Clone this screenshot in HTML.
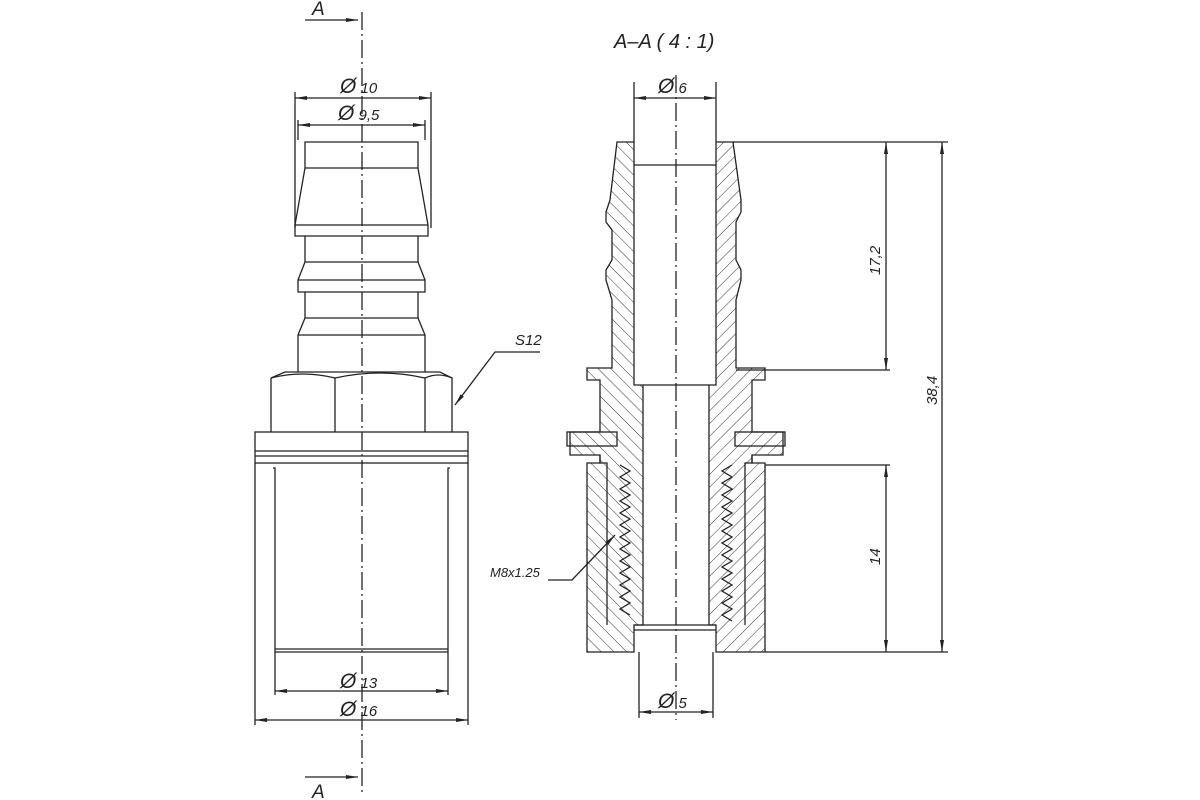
<!DOCTYPE html>
<html><head><style>body{margin:0;background:#fff}svg{display:block}text{font-family:"Liberation Sans",sans-serif;font-style:italic;fill:#222}</style></head><body>
<svg width="1200" height="800" viewBox="0 0 1200 800" xmlns="http://www.w3.org/2000/svg">
<defs>
<pattern id="h" patternUnits="userSpaceOnUse" width="9" height="9" patternTransform="rotate(-45)"><line x1="0" y1="0" x2="0" y2="9" stroke="#333" stroke-width="1"/></pattern>
<pattern id="h2" patternUnits="userSpaceOnUse" width="9" height="9" patternTransform="rotate(45)"><line x1="0" y1="0" x2="0" y2="9" stroke="#333" stroke-width="1"/></pattern>
<marker id="a" markerWidth="12" markerHeight="6" refX="12" refY="3" orient="auto-start-reverse" markerUnits="userSpaceOnUse"><path d="M0,1 L12,3 L0,5 z" fill="#222"/></marker>
</defs>
<g stroke="#222" stroke-width="1.3" fill="none">
<line x1="362" y1="12" x2="362" y2="795" stroke-dasharray="18,4,2,4"/>
<line x1="305" y1="20" x2="358" y2="20" marker-end="url(#a)"/>
<line x1="305" y1="777" x2="358" y2="777" marker-end="url(#a)"/>
<path d="M305,142 H418 V168 L428,225 V236 H295 V225 L305,168 Z"/>
<line x1="305" y1="168" x2="418" y2="168"/>
<line x1="295" y1="225" x2="428" y2="225"/>
<path d="M305,236 V262 L298,280 V292 H425 V280 L418,262 V236"/>
<line x1="305" y1="262" x2="418" y2="262"/><line x1="298" y1="280" x2="425" y2="280"/>
<path d="M305,292 V318 L298,335 V372 M418,292 V318 L425,335 V372"/>
<line x1="305" y1="318" x2="418" y2="318"/><line x1="298" y1="335" x2="425" y2="335"/>
<path d="M271,378 L285,372 H440 L452,378 V432 M271,378 V432"/>
<path d="M271,378 Q302,370 335,378 Q380,368 425,378 Q438,372 452,378"/>
<line x1="335" y1="378" x2="335" y2="432"/><line x1="425" y1="378" x2="425" y2="432"/>
<rect x="255" y="432" width="213" height="31"/>
<line x1="255" y1="451" x2="468" y2="451"/><line x1="255" y1="456" x2="468" y2="456"/>
<line x1="255" y1="463" x2="255" y2="725"/><line x1="468" y1="463" x2="468" y2="725"/>
<path d="M273,468 L275,468 V652 H448 V468 L450,468"/>
<line x1="275" y1="649" x2="448" y2="649"/>
<line x1="275" y1="652" x2="275" y2="695"/><line x1="448" y1="652" x2="448" y2="695"/>
<line x1="295" y1="92" x2="295" y2="228"/><line x1="431" y1="92" x2="431" y2="228"/>
<line x1="295" y1="98" x2="431" y2="98" marker-start="url(#a)" marker-end="url(#a)"/>
<line x1="298" y1="120" x2="298" y2="140"/><line x1="425" y1="120" x2="425" y2="140"/>
<line x1="298" y1="125" x2="425" y2="125" marker-start="url(#a)" marker-end="url(#a)"/>
<line x1="275" y1="691" x2="448" y2="691" marker-start="url(#a)" marker-end="url(#a)"/>
<line x1="255" y1="720" x2="468" y2="720" marker-start="url(#a)" marker-end="url(#a)"/>
<polyline points="455,405 495,352 540,352" marker-start="url(#a)"/>

<line x1="676" y1="75" x2="676" y2="720" stroke-dasharray="18,4,2,4"/>
<path fill="url(#h)" d="M617,142 H634 V385 H643 V625 H634 V652 H587 V463 H600 V455 H570 V432 H600 V380 H587 V368 H612 V300 L606,280 V270 L612,260 V230 L606,222 V212 L610,200 Z"/>
<path fill="url(#h2)" d="M716,142 H733 L741,200 V212 L736,222 V260 L741,270 V280 L736,300 V368 H765 V380 H752 V432 H783 V455 H752 V463 H765 V652 H716 V625 H709 V385 H716 Z"/>
<path d="M600,455 V463 H607 V625 M752,455 V463 H745 V625" />
<rect x="567" y="432" width="50" height="14"/><rect x="735" y="432" width="50" height="14"/>
<line x1="643" y1="385" x2="709" y2="385"/><line x1="634" y1="625" x2="716" y2="625"/><line x1="634" y1="630" x2="716" y2="630"/>
<line x1="634" y1="165" x2="716" y2="165"/>
<path d="M620,465 l10,6 l-10,6 l10,6 l-10,6 l10,6 l-10,6 l10,6 l-10,6 l10,6 l-10,6 l10,6 l-10,6 l10,6 l-10,6 l10,6 l-10,6 l10,6 l-10,6 l10,6 l-10,6 l10,6 l-10,6 l10,6 l-10,6 l10,6"/>
<path d="M732,465 l-10,6 l10,6 l-10,6 l10,6 l-10,6 l10,6 l-10,6 l10,6 l-10,6 l10,6 l-10,6 l10,6 l-10,6 l10,6 l-10,6 l10,6 l-10,6 l10,6 l-10,6 l10,6 l-10,6 l10,6 l-10,6 l10,6 l-10,6 l10,6"/>
<line x1="634" y1="82" x2="634" y2="142"/><line x1="716" y1="82" x2="716" y2="142"/>
<line x1="634" y1="98" x2="716" y2="98" marker-start="url(#a)" marker-end="url(#a)"/>
<line x1="639" y1="652" x2="639" y2="718"/><line x1="713" y1="652" x2="713" y2="718"/>
<line x1="639" y1="712" x2="713" y2="712" marker-start="url(#a)" marker-end="url(#a)"/>
<line x1="733" y1="142" x2="948" y2="142"/><line x1="736" y1="370" x2="890" y2="370"/>
<line x1="765" y1="465" x2="890" y2="465"/><line x1="765" y1="652" x2="948" y2="652"/>
<line x1="886" y1="142" x2="886" y2="370" marker-start="url(#a)" marker-end="url(#a)"/>
<line x1="942" y1="142" x2="942" y2="652" marker-start="url(#a)" marker-end="url(#a)"/>
<line x1="886" y1="465" x2="886" y2="652" marker-start="url(#a)" marker-end="url(#a)"/>
<polyline points="615,535 572,580 548,580" marker-start="url(#a)"/>
</g>
<g font-size="15">
<text x="312" y="15" font-size="19">A</text>
<text x="312" y="798" font-size="19">A</text>
<text x="340" y="93"><tspan font-size="21">Ø</tspan> 10</text>
<text x="338" y="120"><tspan font-size="21">Ø</tspan> 9,5</text>
<text x="340" y="688"><tspan font-size="21">Ø</tspan> 13</text>
<text x="340" y="716"><tspan font-size="21">Ø</tspan> 16</text>
<text x="515" y="345">S12</text>
<text x="614" y="48" font-size="20">A–A ( 4 : 1)</text>
<text x="658" y="93"><tspan font-size="21">Ø</tspan> 6</text>
<text x="658" y="708"><tspan font-size="21">Ø</tspan> 5</text>
<text x="490" y="577" font-size="13">M8x1.25</text>
<text transform="translate(880,275) rotate(-90)">17,2</text>
<text transform="translate(937,405) rotate(-90)">38,4</text>
<text transform="translate(880,565) rotate(-90)">14</text>
</g>
</svg>
</body></html>
